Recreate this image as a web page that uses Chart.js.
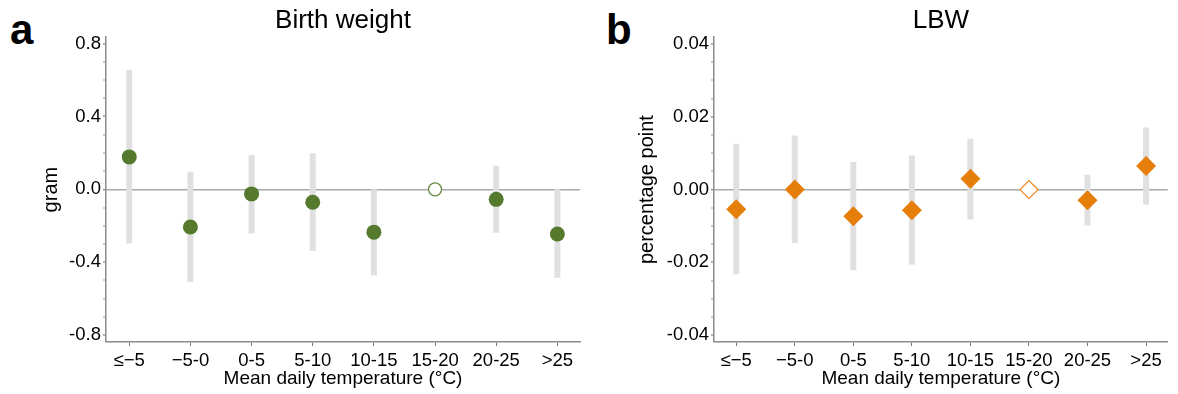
<!DOCTYPE html>
<html>
<head>
<meta charset="utf-8">
<script src="https://cdn.jsdelivr.net/npm/chart.js@4"></script>
<style>
  html, body { margin: 0; padding: 0; background: #fff; }
  body { width: 1178px; height: 394px; position: relative; overflow: hidden; font-family: "Liberation Sans", Arial, sans-serif; }
  canvas { position: absolute; top: 0; }
  .panel { position: absolute; font-weight: bold; font-size: 42px; line-height: 42px; color: #000; }
</style>
</head>
<body>
<div class="panel" style="left:10px; top:9px;">a</div>
<div class="panel" style="left:606px; top:9px;">b</div>
<canvas id="cA" width="590" height="394" style="left:0px"></canvas>
<canvas id="cB" width="588" height="394" style="left:590px"></canvas>
<script>
// ---- data ----
const categories = ['≤−5', '−5-0', '0-5', '5-10', '10-15', '15-20', '20-25', '>25'];
const refIndex = 5; // reference category (hollow marker)

const bwEstimate = [0.178, -0.207, -0.025, -0.071, -0.235, 0, -0.055, -0.245];
const bwLower    = [-0.298, -0.509, -0.242, -0.338, -0.473, null, -0.238, -0.485];
const bwUpper    = [0.655, 0.096, 0.189, 0.198, 0.000, null, 0.129, 0.000];

const lbwEstimate = [-0.0054, 0.0000, -0.0073, -0.0057, 0.0030, 0, -0.0029, 0.0065];
const lbwLower    = [-0.0233, -0.0147, -0.0222, -0.0206, -0.0082, null, -0.0099, -0.0041];
const lbwUpper    = [0.0126, 0.0149, 0.0076, 0.0094, 0.0140, null, 0.0041, 0.0171];

const bwMajorTicks  = [-0.8, -0.4, 0, 0.4, 0.8];
const lbwMajorTicks = [-0.04, -0.02, 0, 0.02, 0.04];
const bwMinorStep = 0.1;
const lbwMinorStep = 0.005;

// ---- styling ----
const FONT = '"Liberation Sans", Arial, sans-serif';
const GREEN = '#557a2e';
const ORANGE = '#e67e0a';
const CI_COLOR = '#e0e0e0';
const AXIS_COLOR = '#8a8a8a';

function ciData(lower, upper) {
  const out = [];
  categories.forEach((c, i) => {
    if (lower[i] === null || upper[i] === null) return;
    out.push({x: i, y: lower[i]}, {x: i, y: upper[i]}, {x: i, y: null});
  });
  return out;
}
function pointData(est, useRef) {
  const out = [];
  categories.forEach((c, i) => {
    if ((i === refIndex) === useRef) out.push({x: i, y: est[i]});
  });
  return out;
}

function makeChart(id, cfg) {
  const majors = cfg.majors;
  const minVal = majors[0], maxVal = majors[majors.length - 1];
  const nSteps = Math.round((maxVal - minVal) / cfg.minorStep);
  return new Chart(document.getElementById(id), {
    data: {
      datasets: [
        {
          type: 'scatter',
          data: pointData(cfg.est, false),
          pointStyle: cfg.style,
          pointRadius: cfg.radius,
          pointHoverRadius: cfg.radius,
          backgroundColor: cfg.color,
          borderColor: cfg.color,
          borderWidth: 0,
          order: 0
        },
        {
          type: 'scatter',
          data: pointData(cfg.est, true),
          pointStyle: cfg.style,
          pointRadius: cfg.refRadius,
          pointHoverRadius: cfg.refRadius,
          backgroundColor: '#ffffff',
          borderColor: cfg.refColor,
          borderWidth: 1.3,
          order: 0
        },
        {
          type: 'line',
          data: ciData(cfg.lower, cfg.upper),
          borderColor: CI_COLOR,
          borderWidth: 6,
          borderCapStyle: 'butt',
          pointRadius: 0,
          pointHoverRadius: 0,
          spanGaps: false,
          fill: false,
          order: 1
        }
      ]
    },
    options: {
      responsive: false,
      animation: false,
      devicePixelRatio: 1,
      layout: { padding: { left: 0, right: cfg.padRight, top: 0, bottom: 0 } },
      plugins: {
        legend: { display: false },
        tooltip: { enabled: false },
        title: {
          display: true, text: cfg.title, fullSize: false, color: '#000',
          font: { family: FONT, size: 26, weight: 'normal' },
          padding: { top: 5, bottom: 1 }
        }
      },
      scales: {
        x: {
          type: 'linear',
          min: -0.38, max: 7.37,
          afterFit: s => { s.height = 52; },
          afterBuildTicks: s => { s.ticks = categories.map((c, i) => ({ value: i })); },
          ticks: {
            color: '#000', padding: 4, maxRotation: 0, autoSkip: false,
            font: { family: FONT, size: 18.5 },
            callback: v => categories[v]
          },
          grid: { drawOnChartArea: false, drawTicks: true, tickLength: 4, tickColor: '#777', tickWidth: 1 },
          border: { display: true, color: AXIS_COLOR, width: 1.5 },
          title: {
            display: true, text: 'Mean daily temperature (°C)', color: '#000',
            font: { family: FONT, size: 19 }, padding: { top: 0, bottom: 4 }
          }
        },
        y: {
          type: 'linear',
          min: cfg.yMin, max: cfg.yMax,
          afterFit: s => { s.width = cfg.yWidth; },
          afterBuildTicks: s => {
            const t = [];
            for (let k = 0; k <= nSteps; k++) {
              t.push({ value: +(minVal + k * cfg.minorStep).toFixed(6) });
            }
            s.ticks = t;
          },
          ticks: {
            color: '#000', padding: 2, autoSkip: false,
            font: { family: FONT, size: 18.5 },
            callback: v => majors.some(m => Math.abs(m - v) < 1e-9) ? v.toFixed(cfg.decimals).replace('-0.' + '0'.repeat(cfg.decimals), '0.' + '0'.repeat(cfg.decimals)) : ''
          },
          grid: {
            drawOnChartArea: true,
            drawTicks: true,
            tickLength: 3,
            tickWidth: 1,
            tickColor: ctx => majors.some(m => Math.abs(m - ctx.tick.value) < 1e-9) ? '#666' : '#999',
            color: ctx => (ctx.tick && Math.abs(ctx.tick.value) < 1e-12) ? '#a9a9a9' : 'rgba(0,0,0,0)',
            lineWidth: ctx => (ctx.tick && Math.abs(ctx.tick.value) < 1e-12) ? 1.5 : 0
          },
          border: { display: true, color: AXIS_COLOR, width: 1.5 },
          title: {
            display: true, text: cfg.yTitle, color: '#000',
            font: { family: FONT, size: 20 }, padding: { top: cfg.yTitlePad, bottom: 0 }
          }
        }
      }
    }
  });
}

makeChart('cA', {
  title: 'Birth weight', yTitle: 'gram', yTitlePad: 39,
  est: bwEstimate, lower: bwLower, upper: bwUpper,
  majors: bwMajorTicks, minorStep: bwMinorStep, decimals: 1,
  yMin: -0.838, yMax: 0.835, yWidth: 106, padRight: 10,
  style: 'circle', radius: 7.5, refRadius: 6.5, color: GREEN, refColor: '#6a8c48'
});
makeChart('cB', {
  title: 'LBW', yTitle: 'percentage point', yTitlePad: 45,
  est: lbwEstimate, lower: lbwLower, upper: lbwUpper,
  majors: lbwMajorTicks, minorStep: lbwMinorStep, decimals: 2,
  yMin: -0.0419, yMax: 0.0419, yWidth: 124, padRight: 2,
  style: 'rectRot', radius: 10, refRadius: 9, color: ORANGE, refColor: '#ec8a2a'
});
</script>
</body>
</html>
